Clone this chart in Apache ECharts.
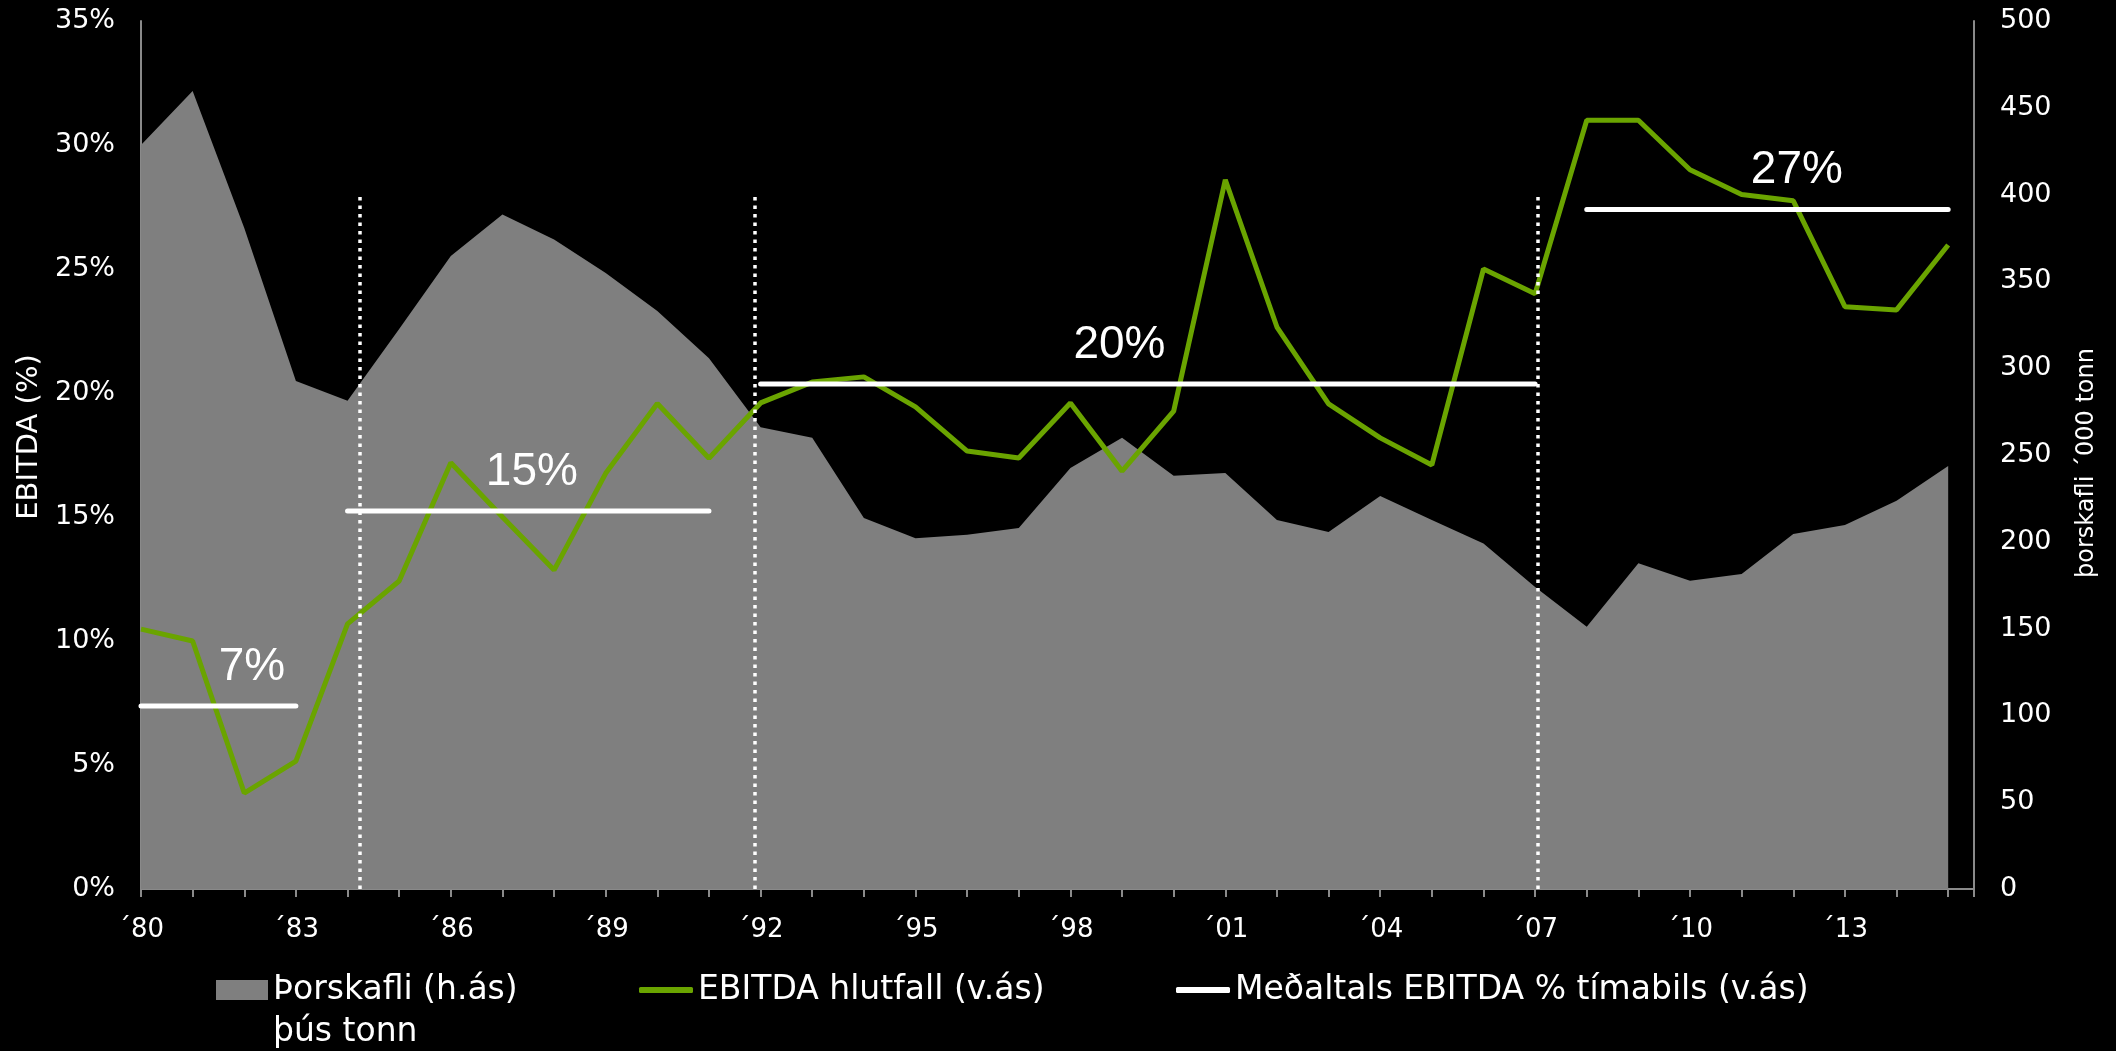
<!DOCTYPE html>
<html>
<head>
<meta charset="utf-8">
<script src="https://cdn.jsdelivr.net/npm/echarts@6/dist/echarts.min.js"></script>
<style>
html, body { margin: 0; padding: 0; background: #000; }
#chart { width: 2116px; height: 1051px; }
</style>
</head>
<body>
<div id="chart"></div>
<script>
// ---- data ----
const years = [1980, 1981, 1982, 1983, 1984, 1985, 1986, 1987, 1988, 1989, 1990, 1991,
               1992, 1993, 1994, 1995, 1996, 1997, 1998, 1999, 2000, 2001, 2002, 2003,
               2004, 2005, 2006, 2007, 2008, 2009, 2010, 2011, 2012, 2013, 2014, 2015];
// Þorskafli, thousand tonnes (right axis)
const codCatch = [428.6, 459.7, 380.7, 292.6, 281.3, 322.6, 364.6, 388.6, 374.2, 354.8, 333.0, 305.7,
                  266.0, 260.0, 213.7, 202.0, 204.0, 208.0, 242.5, 260.0, 238.0, 239.6, 212.6, 205.6,
                  226.4, 212.6, 199.0, 174.0, 151.0, 187.6, 177.6, 181.4, 204.5, 209.7, 223.7, 243.7];
// EBITDA ratio, % (left axis)
const ebitda = [10.48, 10.0, 3.87, 5.16, 10.69, 12.42, 17.19, 15.0, 12.86, 16.76, 19.58, 17.37,
                19.6, 20.44, 20.65, 19.44, 17.66, 17.38, 19.6, 16.85, 19.27, 28.6, 22.66, 19.56,
                18.19, 17.1, 25.0, 24.0, 31.0, 31.0, 29.0, 28.0, 27.75, 23.48, 23.35, 25.97];
// period averages
const avgStart = [1980, 1984, 1992, 2008];
const avgEnd = [1983, 1991, 2007, 2015];
const avgValue = [7.38, 15.24, 20.36, 27.4];
const avgText = ['7%', '15%', '20%', '27%'];
const avgTextYear = [1982.15, 1987.57, 1998.95, 2012.07];
// dotted period separators
const periodBreaks = [1984.23, 1991.89, 2007.06];
const breakTop = 28.1;
// tick labels
const xLabelYears = [1980, 1983, 1986, 1989, 1992, 1995, 1998, 2001, 2004, 2007, 2010, 2013];
const xLabels = ['´80', '´83', '´86', '´89', '´92', '´95', '´98', '´01', '´04', '´07', '´10', '´13'];

const nameCatch = 'Þorskafli (h.ás)';
const nameEbitda = 'EBITDA hlutfall (v.ás)';
const nameAvg = 'Meðaltals EBITDA % tímabils (v.ás)';

// ---- build ----
const catchData = years.map((y, i) => [y, codCatch[i]]);
const ebitdaData = years.map((y, i) => [y, ebitda[i]]);
const avgData = [];
avgStart.forEach((s, i) => {
  avgData.push([s, avgValue[i]]);
  avgData.push([avgEnd[i], avgValue[i]]);
  if (i < avgStart.length - 1) avgData.push([avgEnd[i], '-']);
});
const avgLabelData = avgTextYear.map((x, i) => [x, avgValue[i]]);
const breakLines = periodBreaks.map(x => [{ coord: [x, 0] }, { coord: [x, breakTop] }]);

const axisGray = '#8a8a8a';
const font = 'DejaVu Sans';
const legendText = { color: '#fff', fontSize: 33, fontFamily: font, lineHeight: 38 };

const chart = echarts.init(document.getElementById('chart'), null, { renderer: 'canvas' });
chart.setOption({
  backgroundColor: '#000',
  animation: false,
  grid: { left: 141, right: 142, top: 21, bottom: 162, outerBoundsMode: 'none', containLabel: false },
  legend: [
    { left: 216, top: 971, padding: 0, itemWidth: 52, itemHeight: 20, selectedMode: false,
      data: [{ name: nameCatch, icon: 'rect' }], textStyle: legendText },
    { left: 639, top: 971, padding: 0, itemWidth: 54, itemHeight: 6, selectedMode: false,
      data: [{ name: nameEbitda, icon: 'roundRect' }], textStyle: legendText },
    { left: 1176, top: 971, padding: 0, itemWidth: 54, itemHeight: 6, selectedMode: false,
      data: [{ name: nameAvg, icon: 'roundRect' }], textStyle: legendText }
  ],
  graphic: [
    { type: 'text', left: 273, top: 1016,
      style: { text: 'þús tonn', fill: '#fff', font: '33px "DejaVu Sans"' } }
  ],
  xAxis: {
    type: 'value', min: 1980, max: 2015.5, interval: 1,
    axisLine: { show: true, lineStyle: { color: axisGray, width: 2 } },
    axisTick: { show: true, length: 8, lineStyle: { color: axisGray, width: 2 } },
    splitLine: { show: false },
    axisLabel: {
      color: '#fff', fontFamily: font, fontSize: 26, margin: 28,
      formatter: v => { const i = xLabelYears.indexOf(v); return i >= 0 ? xLabels[i] : ''; }
    }
  },
  yAxis: [
    {
      type: 'value', position: 'left', min: 0, max: 35, interval: 5,
      axisLine: { show: true, lineStyle: { color: axisGray, width: 2 } },
      axisTick: { show: false }, splitLine: { show: false },
      axisLabel: { color: '#fff', fontFamily: font, fontSize: 27, margin: 26, formatter: '{value}%' },
      name: 'EBITDA (%)', nameLocation: 'middle', nameGap: 97, nameRotate: 90,
      nameTextStyle: { color: '#fff', fontFamily: font, fontSize: 29, padding: [0, 0, 0, 36] }
    },
    {
      type: 'value', position: 'right', min: 0, max: 500, interval: 50,
      axisLine: { show: true, lineStyle: { color: axisGray, width: 2 } },
      axisTick: { show: false }, splitLine: { show: false },
      axisLabel: { color: '#fff', fontFamily: font, fontSize: 27, margin: 26 },
      name: 'þorskafli ´000 tonn', nameLocation: 'middle', nameGap: 101, nameRotate: 90,
      nameTextStyle: { color: '#fff', fontFamily: font, fontSize: 24, padding: [0, 16, 0, 0] }
    }
  ],
  series: [
    {
      name: nameCatch, type: 'line', yAxisIndex: 1, data: catchData, symbol: 'none',
      lineStyle: { width: 0 }, itemStyle: { color: '#7f7f7f' },
      areaStyle: { color: '#7f7f7f', opacity: 1 }, z: 1
    },
    {
      name: nameEbitda, type: 'line', yAxisIndex: 0, data: ebitdaData, symbol: 'none',
      lineStyle: { color: '#6aa400', width: 5 }, itemStyle: { color: '#6aa400' }, z: 2
    },
    {
      name: nameAvg, type: 'line', yAxisIndex: 0, data: avgData, symbol: 'none',
      connectNulls: false,
      lineStyle: { color: '#ffffff', width: 5, cap: 'round' }, itemStyle: { color: '#ffffff' }, z: 3,
      markLine: {
        silent: true, symbol: ['none', 'none'], label: { show: false },
        lineStyle: { color: '#ffffff', width: 3.5, type: [3.5, 5] },
        data: breakLines, z: 4
      }
    },
    {
      name: 'avgLabels', type: 'scatter', yAxisIndex: 0, data: avgLabelData,
      symbolSize: 0, silent: true, z: 5,
      itemStyle: { opacity: 1, color: '#fff' },
      label: {
        show: true, position: 'top', distance: 16, color: '#ffffff', opacity: 1,
        fontFamily: 'Liberation Sans', fontSize: 46,
        formatter: p => avgText[p.dataIndex]
      }
    }
  ]
});
</script>
</body>
</html>
